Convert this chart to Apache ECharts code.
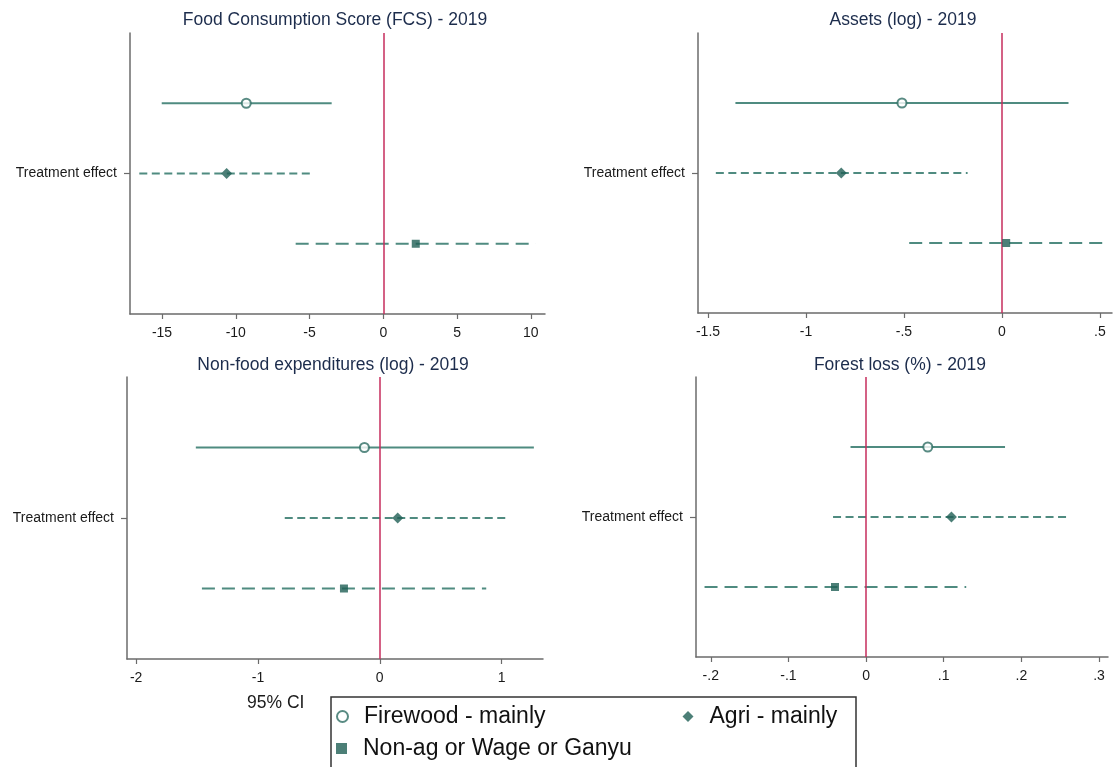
<!DOCTYPE html>
<html>
<head>
<meta charset="utf-8">
<script src="https://cdn.jsdelivr.net/npm/echarts@6/dist/echarts.min.js"></script>
<style>html,body{margin:0;padding:0;background:#fff}#c{width:1115px;height:767px}</style>
</head>
<body>
<div id="c"></div>
<script>
// ---------- data ----------
const panelTitles = ['Food Consumption Score (FCS) - 2019', 'Assets (log) - 2019',
                     'Non-food expenditures (log) - 2019', 'Forest loss (%) - 2019'];
const groupNames = ['Firewood - mainly', 'Agri - mainly', 'Non-ag or Wage or Ganyu'];
const rowLabel = 'Treatment effect';
const rowPos = [3, 2, 1];

// estimates and 95% CI bounds, order: Firewood, Agri, Non-ag
const fcsEst = [-9.29, -10.62, 2.20];
const fcsLo  = [-15.02, -16.54, -5.94];
const fcsHi  = [-3.50, -4.85, 10.33];

const assetsEst = [-0.51, -0.82, 0.022];
const assetsLo  = [-1.36, -1.46, -0.473];
const assetsHi  = [0.34, -0.175, 0.515];

const nonfoodEst = [-0.126, 0.147, -0.294];
const nonfoodLo  = [-1.51, -0.78, -1.46];
const nonfoodHi  = [1.265, 1.05, 0.874];

const forestEst = [0.0795, 0.110, -0.040];
const forestLo  = [-0.020, -0.0425, -0.208];
const forestHi  = [0.179, 0.260, 0.129];

const fcsTicks = [-15, -10, -5, 0, 5, 10];
const assetsTicks = [-1.5, -1, -0.5, 0, 0.5];
const nonfoodTicks = [-2, -1, 0, 1];
const forestTicks = [-0.2, -0.1, 0, 0.1, 0.2, 0.3];

// ---------- layout / style ----------
const FONT = '"Liberation Sans", Arial, Helvetica, sans-serif';
const panels = [
  {est: fcsEst, lo: fcsLo, hi: fcsHi, ticks: fcsTicks, min: -17.17, max: 10.96,
   grid: {left: 130, top: 33, width: 415, height: 281}, tx: 335, ty: 20.6},
  {est: assetsEst, lo: assetsLo, hi: assetsHi, ticks: assetsTicks, min: -1.551, max: 0.562,
   grid: {left: 698, top: 33, width: 414, height: 280}, tx: 903, ty: 20.6},
  {est: nonfoodEst, lo: nonfoodLo, hi: nonfoodHi, ticks: nonfoodTicks, min: -2.075, max: 1.34,
   grid: {left: 127, top: 377, width: 416, height: 282}, tx: 333, ty: 365.6},
  {est: forestEst, lo: forestLo, hi: forestHi, ticks: forestTicks, min: -0.219, max: 0.3116,
   grid: {left: 696, top: 377, width: 412, height: 280}, tx: 900, ty: 365.6}
];
const lineColor = '#4f8b80';
const markerColor = '#1f5f55';
const axisColor = '#6b6b6b';
const redColor = '#c62d5c';
const dashTypes = ['solid', [8, 4.5], [13, 7]];
const symbols = ['emptyCircle', 'diamond', 'rect'];
const symbolSizes = [9, 11, 8];

function stataFmt(v) {
  if (Math.abs(v) < 1e-12) return '0';
  let s = String(+v.toFixed(4));
  return s.replace(/^(-?)0\./, '$1.');
}

const grid = [], xAxis = [], yAxis = [], series = [], graphic = [];
panels.forEach((p, i) => {
  grid.push(Object.assign({containLabel: false}, p.grid));
  xAxis.push({
    type: 'value', gridIndex: i, min: p.min, max: p.max,
    axisLine: {show: true, onZero: false, lineStyle: {color: axisColor, width: 1.5}},
    axisTick: {show: true, length: 5, customValues: p.ticks, lineStyle: {color: axisColor, width: 1.2}},
    axisLabel: {customValues: p.ticks, formatter: stataFmt, fontSize: 14, color: '#1a1a1a',
                margin: 12, fontFamily: FONT},
    splitLine: {show: false}
  });
  yAxis.push({
    type: 'value', gridIndex: i, min: 0, max: 4,
    axisLine: {show: true, onZero: false, lineStyle: {color: axisColor, width: 1.5}},
    axisTick: {show: true, length: 6, customValues: [2], lineStyle: {color: axisColor, width: 1.2}},
    axisLabel: {customValues: [2], formatter: () => rowLabel, fontSize: 14, color: '#1a1a1a',
                margin: 13, fontFamily: FONT},
    splitLine: {show: false}
  });
  groupNames.forEach((name, g) => {
    const ci = {
      type: 'line', name: 'ci' + i + '_' + g, xAxisIndex: i, yAxisIndex: i,
      data: [[p.lo[g], rowPos[g]], [p.hi[g], rowPos[g]]],
      symbol: 'none', silent: true, z: 3, animation: false,
      lineStyle: {color: lineColor, width: 2, type: dashTypes[g], cap: 'butt'},
      emphasis: {disabled: true}
    };
    if (g === 0) {
      ci.markLine = {
        silent: true, symbol: ['none', 'none'], label: {show: false}, animation: false,
        lineStyle: {color: redColor, width: 1.5, type: 'solid'},
        emphasis: {disabled: true},
        data: [{xAxis: 0}]
      };
    }
    series.push(ci);
    series.push({
      type: 'scatter', name: name, xAxisIndex: i, yAxisIndex: i,
      data: [[p.est[g], rowPos[g]]],
      symbol: symbols[g], symbolSize: symbolSizes[g], z: 5, animation: false,
      itemStyle: g === 0 ? {color: '#2f6e64', borderWidth: 1.5} : {color: markerColor},
      emphasis: {disabled: true}
    });
  });
  graphic.push({
    type: 'text', x: p.tx, y: p.ty, silent: true,
    style: {text: panelTitles[i], fontSize: 17.5, fontFamily: FONT, fill: '#1c2c4c',
            textAlign: 'center', textVerticalAlign: 'middle', verticalAlign: 'middle'}
  });
});

graphic.push({
  type: 'text', x: 247, y: 703, silent: true,
  style: {text: '95% CI', fontSize: 17.5, fontFamily: FONT, fill: '#1a1a1a',
          textAlign: 'left', textVerticalAlign: 'middle', verticalAlign: 'middle'}
});
graphic.push({
  type: 'rect', silent: true,
  shape: {x: 331, y: 697, width: 525, height: 100},
  style: {fill: 'none', stroke: '#333', lineWidth: 1.5}
});

const legendCommon = {
  orient: 'horizontal', itemWidth: 11, itemHeight: 11, padding: 0, selectedMode: false,
  textStyle: {fontSize: 23, color: '#111', fontFamily: FONT, padding: [0, 0, 0, 11]}
};
const legend = [
  Object.assign({data: [groupNames[0], groupNames[1]], left: 336, top: 705, itemGap: 137}, legendCommon),
  Object.assign({data: [groupNames[2]], left: 336, top: 737, itemGap: 10}, legendCommon)
];

const chart = echarts.init(document.getElementById('c'), null, {renderer: 'canvas'});
chart.setOption({
  animation: false,
  backgroundColor: '#fff',
  grid, xAxis, yAxis, series, legend, graphic,
  tooltip: {show: false}
});
</script>
</body>
</html>
